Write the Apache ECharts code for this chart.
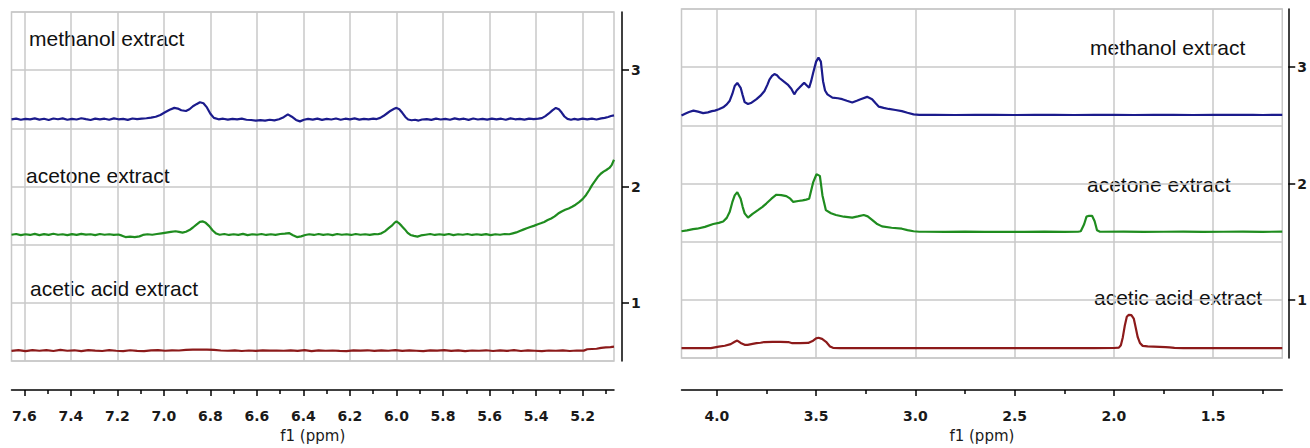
<!DOCTYPE html>
<html><head><meta charset="utf-8">
<script src="https://cdn.jsdelivr.net/npm/echarts@6/dist/echarts.min.js"></script>
<style>html,body{margin:0;padding:0;background:#fff}#c{width:1310px;height:448px}</style>
</head><body><div id="c"></div><script>
// ---------- data: [ppm, intensity] ----------
const leftMethanol = [[7.655,2.578],[7.635,2.584],[7.615,2.574],[7.595,2.582],[7.575,2.577],[7.555,2.586],[7.535,2.575],[7.515,2.583],[7.495,2.572],[7.475,2.585],[7.455,2.578],[7.435,2.586],[7.415,2.574],[7.395,2.582],[7.375,2.576],[7.355,2.587],[7.335,2.579],[7.315,2.572],[7.295,2.584],[7.275,2.577],[7.255,2.583],[7.235,2.574],[7.215,2.586],[7.195,2.578],[7.175,2.582],[7.155,2.573],[7.135,2.585],[7.115,2.579],[7.095,2.584],[7.075,2.587],[7.055,2.592],[7.035,2.600],[7.015,2.615],[6.995,2.638],[6.975,2.660],[6.955,2.676],[6.940,2.670],[6.925,2.656],[6.905,2.649],[6.890,2.664],[6.875,2.690],[6.860,2.708],[6.845,2.724],[6.830,2.716],[6.815,2.680],[6.800,2.625],[6.785,2.590],[6.765,2.578],[6.745,2.583],[6.725,2.575],[6.705,2.582],[6.685,2.577],[6.665,2.584],[6.645,2.574],[6.625,2.572],[6.605,2.566],[6.585,2.571],[6.565,2.566],[6.545,2.574],[6.525,2.569],[6.505,2.578],[6.485,2.596],[6.467,2.620],[6.450,2.600],[6.432,2.572],[6.415,2.560],[6.398,2.574],[6.380,2.582],[6.360,2.575],[6.340,2.584],[6.320,2.573],[6.300,2.582],[6.280,2.576],[6.260,2.585],[6.240,2.574],[6.220,2.583],[6.200,2.577],[6.180,2.586],[6.160,2.575],[6.140,2.582],[6.120,2.578],[6.100,2.584],[6.085,2.580],[6.070,2.590],[6.055,2.608],[6.040,2.630],[6.025,2.652],[6.010,2.668],[6.000,2.676],[5.988,2.664],[5.975,2.634],[5.962,2.598],[5.950,2.576],[5.935,2.570],[5.920,2.574],[5.905,2.567],[5.890,2.576],[5.870,2.580],[5.850,2.573],[5.830,2.584],[5.810,2.576],[5.790,2.582],[5.770,2.574],[5.750,2.586],[5.730,2.577],[5.710,2.583],[5.690,2.573],[5.670,2.585],[5.650,2.576],[5.630,2.582],[5.610,2.575],[5.590,2.584],[5.570,2.577],[5.550,2.583],[5.530,2.574],[5.510,2.586],[5.490,2.578],[5.470,2.582],[5.450,2.575],[5.430,2.584],[5.410,2.579],[5.390,2.583],[5.375,2.588],[5.360,2.605],[5.345,2.628],[5.330,2.655],[5.315,2.676],[5.302,2.664],[5.290,2.636],[5.278,2.602],[5.265,2.582],[5.250,2.574],[5.235,2.581],[5.220,2.575],[5.200,2.584],[5.180,2.577],[5.160,2.583],[5.140,2.576],[5.120,2.586],[5.105,2.590],[5.090,2.598],[5.078,2.606],[5.065,2.612]];

const leftAcetone = [[7.655,1.586],[7.635,1.592],[7.615,1.582],[7.595,1.590],[7.575,1.584],[7.555,1.593],[7.535,1.583],[7.515,1.591],[7.495,1.585],[7.475,1.594],[7.455,1.586],[7.435,1.590],[7.415,1.582],[7.395,1.591],[7.375,1.585],[7.355,1.593],[7.335,1.587],[7.315,1.590],[7.295,1.583],[7.275,1.592],[7.255,1.586],[7.235,1.590],[7.215,1.584],[7.195,1.588],[7.180,1.578],[7.165,1.566],[7.145,1.570],[7.125,1.565],[7.105,1.572],[7.090,1.584],[7.070,1.590],[7.050,1.586],[7.030,1.592],[7.010,1.598],[6.990,1.604],[6.970,1.610],[6.950,1.616],[6.935,1.610],[6.920,1.604],[6.905,1.612],[6.890,1.626],[6.875,1.648],[6.860,1.672],[6.845,1.696],[6.832,1.700],[6.820,1.688],[6.805,1.660],[6.790,1.622],[6.775,1.596],[6.760,1.586],[6.740,1.592],[6.720,1.584],[6.700,1.590],[6.680,1.585],[6.660,1.593],[6.640,1.583],[6.620,1.590],[6.600,1.586],[6.580,1.592],[6.560,1.584],[6.540,1.590],[6.520,1.585],[6.500,1.592],[6.480,1.596],[6.462,1.600],[6.445,1.582],[6.428,1.566],[6.410,1.572],[6.392,1.584],[6.375,1.590],[6.355,1.584],[6.335,1.592],[6.315,1.585],[6.295,1.590],[6.275,1.583],[6.255,1.592],[6.235,1.586],[6.215,1.590],[6.195,1.584],[6.175,1.592],[6.155,1.586],[6.135,1.590],[6.115,1.584],[6.095,1.591],[6.080,1.590],[6.065,1.598],[6.050,1.615],[6.035,1.640],[6.020,1.664],[6.008,1.690],[6.000,1.700],[5.990,1.686],[5.978,1.662],[5.965,1.634],[5.952,1.602],[5.940,1.584],[5.925,1.576],[5.910,1.570],[5.895,1.580],[5.875,1.586],[5.855,1.592],[5.835,1.584],[5.815,1.590],[5.795,1.585],[5.775,1.592],[5.755,1.583],[5.735,1.590],[5.715,1.586],[5.695,1.592],[5.675,1.584],[5.655,1.590],[5.635,1.585],[5.615,1.591],[5.595,1.583],[5.575,1.590],[5.555,1.586],[5.535,1.592],[5.515,1.590],[5.500,1.598],[5.485,1.606],[5.470,1.618],[5.455,1.630],[5.440,1.642],[5.425,1.652],[5.410,1.662],[5.395,1.674],[5.380,1.684],[5.365,1.696],[5.350,1.712],[5.335,1.726],[5.320,1.744],[5.305,1.768],[5.290,1.786],[5.275,1.800],[5.260,1.812],[5.245,1.826],[5.230,1.844],[5.215,1.866],[5.200,1.892],[5.185,1.928],[5.172,1.968],[5.160,2.010],[5.148,2.044],[5.135,2.082],[5.122,2.110],[5.110,2.128],[5.098,2.142],[5.085,2.160],[5.075,2.184],[5.065,2.230]];

const leftAcetic = [[7.655,0.588],[7.625,0.594],[7.595,0.586],[7.565,0.595],[7.535,0.589],[7.505,0.594],[7.475,0.587],[7.445,0.596],[7.415,0.589],[7.385,0.593],[7.355,0.586],[7.325,0.594],[7.295,0.590],[7.265,0.587],[7.235,0.595],[7.205,0.589],[7.175,0.586],[7.145,0.593],[7.115,0.588],[7.085,0.585],[7.055,0.592],[7.025,0.594],[6.995,0.589],[6.965,0.593],[6.935,0.591],[6.905,0.596],[6.875,0.598],[6.845,0.599],[6.815,0.598],[6.785,0.596],[6.755,0.591],[6.725,0.589],[6.695,0.592],[6.665,0.587],[6.635,0.591],[6.605,0.588],[6.575,0.592],[6.545,0.590],[6.515,0.591],[6.485,0.589],[6.455,0.592],[6.425,0.588],[6.395,0.594],[6.365,0.586],[6.335,0.592],[6.305,0.589],[6.275,0.591],[6.245,0.588],[6.215,0.586],[6.185,0.592],[6.155,0.590],[6.125,0.593],[6.095,0.588],[6.065,0.592],[6.035,0.589],[6.005,0.595],[5.975,0.588],[5.945,0.592],[5.915,0.589],[5.885,0.586],[5.855,0.592],[5.825,0.590],[5.795,0.594],[5.765,0.588],[5.735,0.592],[5.705,0.586],[5.675,0.591],[5.645,0.589],[5.615,0.593],[5.585,0.587],[5.555,0.592],[5.525,0.588],[5.495,0.594],[5.465,0.587],[5.435,0.592],[5.405,0.589],[5.375,0.586],[5.345,0.591],[5.315,0.589],[5.285,0.592],[5.255,0.587],[5.225,0.591],[5.195,0.590],[5.180,0.602],[5.160,0.604],[5.140,0.606],[5.120,0.614],[5.100,0.618],[5.080,0.620],[5.065,0.624]];

const rightMethanol = [[4.178,2.585],[4.160,2.600],[4.140,2.615],[4.118,2.627],[4.095,2.618],[4.069,2.605],[4.045,2.612],[4.025,2.622],[4.010,2.627],[3.990,2.638],[3.968,2.655],[3.950,2.680],[3.935,2.712],[3.922,2.770],[3.910,2.838],[3.897,2.865],[3.880,2.823],[3.870,2.760],[3.860,2.700],[3.843,2.683],[3.825,2.695],[3.800,2.725],[3.780,2.755],[3.760,2.796],[3.745,2.850],[3.735,2.893],[3.722,2.925],[3.710,2.941],[3.697,2.930],[3.685,2.907],[3.665,2.880],[3.643,2.851],[3.625,2.815],[3.610,2.767],[3.598,2.800],[3.585,2.823],[3.570,2.850],[3.560,2.865],[3.548,2.845],[3.535,2.823],[3.525,2.880],[3.515,2.950],[3.500,3.048],[3.488,3.082],[3.476,3.048],[3.465,2.880],[3.455,2.800],[3.443,2.767],[3.418,2.739],[3.390,2.733],[3.368,2.725],[3.345,2.712],[3.318,2.697],[3.295,2.712],[3.276,2.725],[3.243,2.745],[3.218,2.725],[3.200,2.690],[3.184,2.661],[3.160,2.650],[3.134,2.641],[3.100,2.632],[3.068,2.622],[3.040,2.608],[3.009,2.594],[2.980,2.590],[2.900,2.591],[2.800,2.589],[2.700,2.590],[2.600,2.591],[2.500,2.589],[2.400,2.590],[2.300,2.591],[2.200,2.589],[2.100,2.590],[2.000,2.590],[1.900,2.589],[1.800,2.591],[1.700,2.590],[1.600,2.589],[1.500,2.590],[1.400,2.591],[1.300,2.590],[1.250,2.589],[1.200,2.591],[1.152,2.590]];

const rightAcetone = [[4.178,1.590],[4.150,1.598],[4.120,1.608],[4.100,1.612],[4.060,1.628],[4.018,1.652],[3.990,1.662],[3.968,1.674],[3.950,1.705],[3.935,1.758],[3.922,1.840],[3.910,1.898],[3.897,1.926],[3.880,1.870],[3.870,1.800],[3.860,1.744],[3.843,1.707],[3.820,1.740],[3.793,1.772],[3.770,1.800],[3.751,1.828],[3.725,1.870],[3.700,1.904],[3.675,1.900],[3.650,1.892],[3.630,1.870],[3.615,1.842],[3.590,1.850],[3.568,1.856],[3.550,1.862],[3.535,1.870],[3.515,2.010],[3.498,2.080],[3.481,2.066],[3.468,1.898],[3.451,1.772],[3.425,1.745],[3.400,1.730],[3.360,1.715],[3.318,1.707],[3.290,1.718],[3.260,1.730],[3.240,1.718],[3.218,1.688],[3.195,1.655],[3.168,1.632],[3.120,1.620],[3.068,1.612],[3.040,1.600],[3.009,1.590],[2.980,1.586],[2.950,1.586],[2.850,1.585],[2.750,1.587],[2.650,1.585],[2.550,1.586],[2.450,1.585],[2.350,1.587],[2.250,1.585],[2.180,1.586],[2.167,1.590],[2.150,1.650],[2.138,1.716],[2.125,1.723],[2.110,1.723],[2.097,1.676],[2.085,1.598],[2.070,1.586],[1.950,1.587],[1.850,1.585],[1.750,1.586],[1.650,1.587],[1.550,1.585],[1.450,1.586],[1.350,1.587],[1.250,1.585],[1.152,1.587]];

const rightAcetic = [[4.178,0.586],[4.100,0.587],[4.030,0.586],[4.010,0.592],[3.990,0.598],[3.960,0.606],[3.930,0.620],[3.910,0.640],[3.897,0.651],[3.880,0.630],[3.860,0.614],[3.845,0.614],[3.820,0.622],[3.800,0.628],[3.780,0.632],[3.760,0.638],[3.720,0.640],[3.680,0.640],[3.640,0.638],[3.620,0.628],[3.580,0.628],[3.540,0.630],[3.515,0.650],[3.500,0.670],[3.488,0.675],[3.470,0.665],[3.450,0.640],[3.430,0.600],[3.415,0.588],[3.380,0.586],[3.300,0.586],[3.100,0.586],[2.900,0.587],[2.700,0.586],[2.500,0.586],[2.300,0.587],[2.100,0.586],[2.000,0.587],[1.975,0.590],[1.965,0.610],[1.955,0.680],[1.945,0.780],[1.935,0.855],[1.925,0.872],[1.912,0.870],[1.900,0.840],[1.890,0.760],[1.880,0.680],[1.869,0.630],[1.855,0.605],[1.830,0.600],[1.800,0.598],[1.770,0.596],[1.740,0.594],[1.720,0.592],[1.695,0.588],[1.650,0.586],[1.500,0.586],[1.300,0.586],[1.152,0.586]];

const seriesNames = ['methanol extract', 'acetone extract', 'acetic acid extract'];
const leftMajorTicks = [7.6, 7.4, 7.2, 7.0, 6.8, 6.6, 6.4, 6.2, 6.0, 5.8, 5.6, 5.4, 5.2];
const leftMinorTicks = [7.5, 7.3, 7.1, 6.9, 6.7, 6.5, 6.3, 6.1, 5.9, 5.7, 5.5, 5.3, 5.1];
const rightMajorTicks = [4.0, 3.5, 3.0, 2.5, 2.0, 1.5];
const rightMinorTicks = [3.75, 3.25, 2.75, 2.25, 1.75, 1.25];
const yTickValues = [1, 2, 3];
const xAxisTitle = 'f1 (ppm)';

// ---------- styling ----------
const colors = ['#1b1b8c', '#1f8c1f', '#8c1a1a'];
const gridColor = '#c8c8c8';
const tickFont = { fontFamily: 'DejaVu Sans', fontSize: 14, fontWeight: 'bold', color: '#1a1a1a' };
const nameFont = { fontFamily: 'DejaVu Sans', fontSize: 15, color: '#1a1a1a' };
const labelFont = '21px "Liberation Sans", Arial, sans-serif';

const chart = echarts.init(document.getElementById('c'), null, { renderer: 'svg' });

function mainX(gridIndex, min, max, ticks, offset, splitNumber) {
  return {
    gridIndex, type: 'value', inverse: true, min, max, position: 'bottom', offset, splitNumber,
    axisLine: { show: true, onZero: false, lineStyle: { color: '#000', width: 1.5 } },
    axisTick: { show: true, customValues: ticks, length: 6, lineStyle: { color: '#000', width: 1.5 } },
    axisLabel: Object.assign({ customValues: ticks, margin: 19, formatter: v => v.toFixed(1) }, tickFont),
    splitLine: { show: true, lineStyle: { color: gridColor, width: 1.5 } },
    name: xAxisTitle, nameLocation: 'middle', nameGap: 35,
    nameTextStyle: Object.assign({}, nameFont)
  };
}
function minorX(gridIndex, min, max, ticks, offset) {
  return {
    gridIndex, type: 'value', inverse: true, min, max, position: 'bottom', offset,
    axisLine: { show: false, onZero: false },
    axisTick: { show: true, customValues: ticks, length: 4, lineStyle: { color: '#000', width: 1.5 } },
    axisLabel: { show: false },
    splitLine: { show: false }
  };
}
function gridY(gridIndex) {
  return {
    gridIndex, type: 'value', min: 0.5, max: 3.5, interval: 0.5,
    axisLine: { show: false }, axisTick: { show: false }, axisLabel: { show: false },
    splitLine: { show: true, lineStyle: { color: gridColor, width: 1.5 } }
  };
}
function visY(gridIndex, offset) {
  return {
    gridIndex, type: 'value', min: 0.5, max: 3.5, position: 'right', offset, splitNumber: 3,
    axisLine: { show: true, onZero: false, lineStyle: { color: '#000', width: 1.5 } },
    axisTick: { show: true, customValues: yTickValues, length: 7, lineStyle: { color: '#000', width: 1.5 } },
    axisLabel: Object.assign({ customValues: yTickValues, margin: 9 }, tickFont),
    splitLine: { show: false }
  };
}
function line(data, color, xi, yi) {
  return { type: 'line', data, xAxisIndex: xi, yAxisIndex: yi, symbol: 'none', showSymbol: false,
    lineStyle: { color, width: 2.2 }, itemStyle: { color }, animation: false, silent: true };
}
function txt(text, x, y) {
  return { type: 'text', x, y, silent: true,
    style: { text, font: labelFont, fill: '#111', verticalAlign: 'middle', align: 'left' } };
}

chart.setOption({
  backgroundColor: '#fff',
  animation: false,
  grid: [
    { left: 11.5, top: 12, width: 602.5, height: 358, show: true, borderColor: gridColor, borderWidth: 1.5 },
    { left: 681.5, top: 9, width: 604.5, height: 358, show: true, borderColor: gridColor, borderWidth: 1.5 }
  ],
  xAxis: [
    mainX(0, 5.065, 7.655, leftMajorTicks, 29, 13),
    minorX(0, 5.065, 7.655, leftMinorTicks, 29),
    mainX(1, 1.152, 4.178, rightMajorTicks, 32, 6),
    minorX(1, 1.152, 4.178, rightMinorTicks, 32)
  ],
  yAxis: [gridY(0), visY(0, 8), gridY(1), visY(1, 6)],
  series: [
    line(leftMethanol, colors[0], 0, 0),
    line(leftAcetone, colors[1], 0, 0),
    line(leftAcetic, colors[2], 0, 0),
    line(rightMethanol, colors[0], 2, 2),
    line(rightAcetone, colors[1], 2, 2),
    line(rightAcetic, colors[2], 2, 2)
  ],
  graphic: [
    txt(seriesNames[0], 29, 38),
    txt(seriesNames[1], 26, 175),
    txt(seriesNames[2], 30, 288),
    txt(seriesNames[0], 1090, 47),
    txt(seriesNames[1], 1087, 184),
    txt(seriesNames[2], 1094, 297)
  ]
});
</script></body></html>
